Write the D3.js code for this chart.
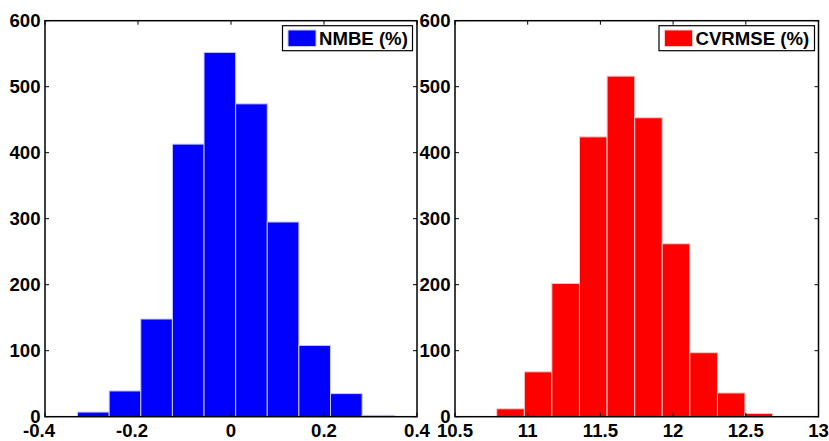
<!DOCTYPE html>
<html><head><meta charset="utf-8">
<script src="https://cdn.jsdelivr.net/npm/d3@7"></script>
<style>
html,body{margin:0;padding:0;background:#fff;}
svg{display:block;}
text{font-family:"Liberation Sans",Arial,sans-serif;font-weight:bold;fill:#000;}
</style></head>
<body>
<svg id="chart" width="829" height="441"></svg>
<script>
// ---- data ----
const nmbeEdges = [-0.330, -0.262, -0.194, -0.126, -0.058, 0.010, 0.078, 0.146, 0.214, 0.282, 0.351];
const nmbeCounts = [7, 39, 148, 413, 552, 474, 295, 108, 35, 2];
const cvEdges = [10.787, 10.977, 11.166, 11.356, 11.546, 11.736, 11.925, 12.115, 12.305, 12.494, 12.684];
const cvCounts = [12, 68, 202, 424, 516, 453, 262, 97, 36, 5];
const nmbeXTicks = [-0.4, -0.2, 0, 0.2, 0.4];
const cvXTicks = [10.5, 11, 11.5, 12, 12.5, 13];
const yTicks = [0, 100, 200, 300, 400, 500, 600];
const panels = [
  {label: "NMBE (%)", edges: nmbeEdges, counts: nmbeCounts, xDomain: [-0.4, 0.4], xTicks: nmbeXTicks,
   fill: "#0000ff", stroke: "#c8c8ff", left: 45, right: 417, legendX: 282.5, legendW: 130},
  {label: "CVRMSE (%)", edges: cvEdges, counts: cvCounts, xDomain: [10.5, 13], xTicks: cvXTicks,
   fill: "#ff0000", stroke: "#ffc8c8", left: 455, right: 818.5, legendX: 659, legendW: 155.5}
];

const svg = d3.select("#chart");
const plotTop = 20.7, plotBottom = 416.7, tickLen = 4;
const y = d3.scaleLinear().domain([0, 600]).range([plotBottom, plotTop]);
const fs = "18.6px";

panels.forEach(p => {
  const x = d3.scaleLinear().domain(p.xDomain).range([p.left, p.right]);
  const g = svg.append("g");
  const bins = p.counts.map((c, i) => ({x0: p.edges[i], x1: p.edges[i + 1], c}));

  g.selectAll("rect.bar").data(bins).enter().append("rect")
    .attr("class", "bar")
    .attr("x", d => x(d.x0))
    .attr("width", d => x(d.x1) - x(d.x0))
    .attr("y", d => y(d.c))
    .attr("height", d => y(0) - y(d.c))
    .attr("fill", p.fill)
    .attr("stroke", p.stroke)
    .attr("stroke-width", 1);

  // ticks (inward, all four sides)
  const tg = g.append("g").attr("stroke", "#000").attr("stroke-width", 1);
  p.xTicks.forEach(t => {
    tg.append("line").attr("x1", x(t)).attr("x2", x(t)).attr("y1", plotBottom).attr("y2", plotBottom - tickLen);
    tg.append("line").attr("x1", x(t)).attr("x2", x(t)).attr("y1", plotTop).attr("y2", plotTop + tickLen);
  });
  yTicks.forEach(t => {
    tg.append("line").attr("x1", p.left).attr("x2", p.left + tickLen).attr("y1", y(t)).attr("y2", y(t));
    tg.append("line").attr("x1", p.right).attr("x2", p.right - tickLen).attr("y1", y(t)).attr("y2", y(t));
  });

  // frame
  g.append("rect").attr("x", p.left).attr("y", plotTop)
    .attr("width", p.right - p.left).attr("height", plotBottom - plotTop)
    .attr("fill", "none").attr("stroke", "#000").attr("stroke-width", 1.5);

  // y labels
  g.selectAll("text.yl").data(yTicks).enter().append("text")
    .attr("class", "yl")
    .attr("x", p.left - 4.5).attr("y", d => y(d))
    .attr("dy", "0.36em")
    .attr("text-anchor", "end")
    .style("font-size", fs)
    .text(d => d);

  // x labels
  g.selectAll("text.xl").data(p.xTicks).enter().append("text")
    .attr("class", "xl")
    .attr("x", d => x(d) + (d < 0 ? -6 : 0)).attr("y", 436.5)
    .attr("text-anchor", "middle")
    .style("font-size", fs)
    .text(d => d);

  // legend
  const lg = g.append("g");
  lg.append("rect").attr("x", p.legendX).attr("y", 25.7).attr("width", p.legendW).attr("height", 25)
    .attr("fill", "#fff").attr("stroke", "#000").attr("stroke-width", 1.2);
  lg.append("rect").attr("x", p.legendX + 5.5).attr("y", 30).attr("width", 28).attr("height", 16.5)
    .attr("fill", p.fill).attr("stroke", p.stroke).attr("stroke-width", 1);
  lg.append("text").attr("x", p.legendX + 36.5).attr("y", 38.5).attr("dy", "0.36em")
    .style("font-size", fs)
    .text(p.label);
});
</script>
</body></html>
